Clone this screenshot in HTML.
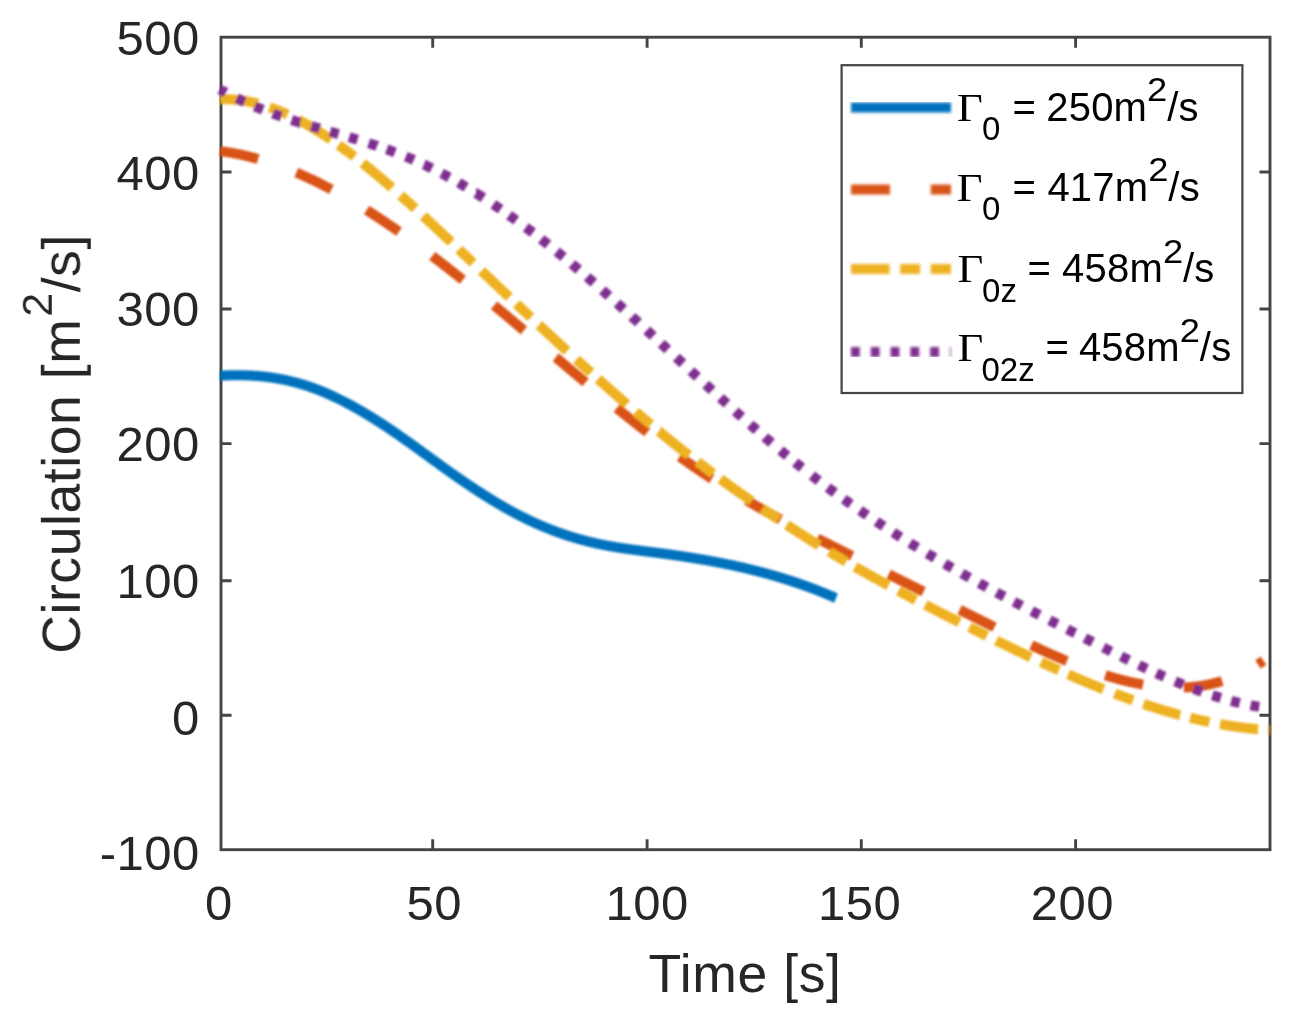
<!DOCTYPE html>
<html><head><meta charset="utf-8"><style>
html,body{margin:0;padding:0;background:#fff;}
body{width:1302px;height:1023px;overflow:hidden;}
svg{display:block;}
</style></head><body>
<svg width="1302" height="1023" viewBox="0 0 1302 1023">
<defs><clipPath id="pc"><rect x="200" y="20" width="1090" height="850"/></clipPath><filter id="bl" x="-2%" y="-2%" width="104%" height="104%"><feGaussianBlur stdDeviation="0.8"/></filter><filter id="bl2" x="-2%" y="-2%" width="104%" height="104%"><feGaussianBlur stdDeviation="1.5"/></filter></defs>
<rect width="1302" height="1023" fill="#fff"/>
<g stroke="#444444" stroke-width="2.9" fill="none">
<rect x="221.00" y="37.20" width="1049.00" height="812.50"/>
<path d="M432.70 849.70 V839.20 M432.70 37.20 V47.70"/>
<path d="M647.10 849.70 V839.20 M647.10 37.20 V47.70"/>
<path d="M861.30 849.70 V839.20 M861.30 37.20 V47.70"/>
<path d="M1075.60 849.70 V839.20 M1075.60 37.20 V47.70"/>
<path d="M221.00 172.00 H231.50 M1270.00 172.00 H1259.50"/>
<path d="M221.00 309.00 H231.50 M1270.00 309.00 H1259.50"/>
<path d="M221.00 443.60 H231.50 M1270.00 443.60 H1259.50"/>
<path d="M221.00 580.70 H231.50 M1270.00 580.70 H1259.50"/>
<path d="M221.00 715.25 H231.50 M1270.00 715.25 H1259.50"/>
</g>
<g clip-path="url(#pc)"><g fill="none" stroke-width="10.0" stroke-linejoin="round" filter="url(#bl)">
<path d="M220.0 375.7 L221.0 375.7 L222.0 375.6 L223.0 375.5 L224.0 375.5 L225.0 375.4 L226.0 375.4 L227.0 375.4 L228.0 375.3 L229.0 375.3 L230.0 375.3 L231.0 375.2 L232.0 375.2 L233.0 375.2 L234.0 375.2 L235.0 375.2 L236.0 375.2 L237.0 375.2 L238.0 375.2 L239.0 375.2 L240.0 375.2 L241.0 375.2 L242.0 375.2 L243.0 375.2 L244.0 375.3 L245.0 375.3 L246.0 375.3 L247.0 375.4 L248.0 375.4 L249.0 375.4 L250.0 375.5 L251.0 375.5 L252.0 375.6 L253.0 375.7 L254.0 375.7 L255.0 375.8 L256.0 375.9 L257.0 375.9 L258.0 376.0 L259.0 376.1 L260.0 376.2 L261.0 376.3 L262.0 376.4 L263.0 376.5 L264.0 376.6 L265.0 376.7 L266.0 376.8 L267.0 377.0 L268.0 377.1 L269.0 377.2 L270.0 377.3 L271.0 377.5 L272.0 377.6 L273.0 377.8 L274.0 377.9 L275.0 378.1 L276.0 378.3 L277.0 378.4 L278.0 378.6 L279.0 378.8 L280.0 379.0 L281.0 379.1 L282.0 379.3 L283.0 379.5 L284.0 379.7 L285.0 380.0 L286.0 380.2 L287.0 380.4 L288.0 380.6 L289.0 380.8 L290.0 381.1 L291.0 381.3 L292.0 381.6 L293.0 381.8 L294.0 382.1 L295.0 382.3 L296.0 382.6 L297.0 382.9 L298.0 383.1 L299.0 383.4 L300.0 383.7 L301.0 384.0 L302.0 384.3 L303.0 384.6 L304.0 384.9 L305.0 385.2 L306.0 385.5 L307.0 385.9 L308.0 386.2 L309.0 386.5 L310.0 386.9 L311.0 387.2 L312.0 387.6 L313.0 387.9 L314.0 388.3 L315.0 388.7 L316.0 389.0 L317.0 389.4 L318.0 389.8 L319.0 390.2 L320.0 390.6 L321.0 391.0 L322.0 391.4 L323.0 391.8 L324.0 392.2 L325.0 392.7 L326.0 393.1 L327.0 393.5 L328.0 394.0 L329.0 394.4 L330.0 394.9 L331.0 395.3 L332.0 395.8 L333.0 396.2 L334.0 396.7 L335.0 397.2 L336.0 397.6 L337.0 398.1 L338.0 398.6 L339.0 399.1 L340.0 399.6 L341.0 400.1 L342.0 400.6 L343.0 401.1 L344.0 401.6 L345.0 402.1 L346.0 402.6 L347.0 403.2 L348.0 403.7 L349.0 404.2 L350.0 404.8 L351.0 405.3 L352.0 405.9 L353.0 406.4 L354.0 407.0 L355.0 407.5 L356.0 408.1 L357.0 408.6 L358.0 409.2 L359.0 409.8 L360.0 410.4 L361.0 410.9 L362.0 411.5 L363.0 412.1 L364.0 412.7 L365.0 413.3 L366.0 413.9 L367.0 414.5 L368.0 415.1 L369.0 415.7 L370.0 416.3 L371.0 416.9 L372.0 417.6 L373.0 418.2 L374.0 418.8 L375.0 419.4 L376.0 420.1 L377.0 420.7 L378.0 421.3 L379.0 422.0 L380.0 422.6 L381.0 423.3 L382.0 423.9 L383.0 424.6 L384.0 425.2 L385.0 425.9 L386.0 426.5 L387.0 427.2 L388.0 427.9 L389.0 428.5 L390.0 429.2 L391.0 429.9 L392.0 430.6 L393.0 431.2 L394.0 431.9 L395.0 432.6 L396.0 433.3 L397.0 434.0 L398.0 434.7 L399.0 435.4 L400.0 436.1 L401.0 436.8 L402.0 437.5 L403.0 438.2 L404.0 438.9 L405.0 439.6 L406.0 440.3 L407.0 441.0 L408.0 441.7 L409.0 442.4 L410.0 443.1 L411.0 443.9 L412.0 444.6 L413.0 445.3 L414.0 446.0 L415.0 446.7 L416.0 447.5 L417.0 448.2 L418.0 448.9 L419.0 449.6 L420.0 450.4 L421.0 451.1 L422.0 451.8 L423.0 452.5 L424.0 453.3 L425.0 454.0 L426.0 454.7 L427.0 455.4 L428.0 456.2 L429.0 456.9 L430.0 457.6 L431.0 458.4 L432.0 459.1 L433.0 459.8 L434.0 460.5 L435.0 461.3 L436.0 462.0 L437.0 462.7 L438.0 463.4 L439.0 464.2 L440.0 464.9 L441.0 465.6 L442.0 466.3 L443.0 467.1 L444.0 467.8 L445.0 468.5 L446.0 469.2 L447.0 469.9 L448.0 470.6 L449.0 471.3 L450.0 472.1 L451.0 472.8 L452.0 473.5 L453.0 474.2 L454.0 474.9 L455.0 475.6 L456.0 476.3 L457.0 477.0 L458.0 477.7 L459.0 478.4 L460.0 479.1 L461.0 479.7 L462.0 480.4 L463.0 481.1 L464.0 481.8 L465.0 482.5 L466.0 483.2 L467.0 483.8 L468.0 484.5 L469.0 485.2 L470.0 485.9 L471.0 486.5 L472.0 487.2 L473.0 487.9 L474.0 488.5 L475.0 489.2 L476.0 489.8 L477.0 490.5 L478.0 491.1 L479.0 491.8 L480.0 492.4 L481.0 493.1 L482.0 493.7 L483.0 494.4 L484.0 495.0 L485.0 495.6 L486.0 496.3 L487.0 496.9 L488.0 497.5 L489.0 498.1 L490.0 498.8 L491.0 499.4 L492.0 500.0 L493.0 500.6 L494.0 501.2 L495.0 501.8 L496.0 502.4 L497.0 503.0 L498.0 503.6 L499.0 504.2 L500.0 504.8 L501.0 505.4 L502.0 505.9 L503.0 506.5 L504.0 507.1 L505.0 507.7 L506.0 508.2 L507.0 508.8 L508.0 509.4 L509.0 509.9 L510.0 510.5 L511.0 511.0 L512.0 511.6 L513.0 512.1 L514.0 512.6 L515.0 513.2 L516.0 513.7 L517.0 514.2 L518.0 514.7 L519.0 515.3 L520.0 515.8 L521.0 516.3 L522.0 516.8 L523.0 517.3 L524.0 517.8 L525.0 518.3 L526.0 518.8 L527.0 519.3 L528.0 519.7 L529.0 520.2 L530.0 520.7 L531.0 521.2 L532.0 521.6 L533.0 522.1 L534.0 522.5 L535.0 523.0 L536.0 523.5 L537.0 523.9 L538.0 524.3 L539.0 524.8 L540.0 525.2 L541.0 525.6 L542.0 526.1 L543.0 526.5 L544.0 526.9 L545.0 527.3 L546.0 527.7 L547.0 528.1 L548.0 528.5 L549.0 528.9 L550.0 529.3 L551.0 529.7 L552.0 530.1 L553.0 530.5 L554.0 530.9 L555.0 531.2 L556.0 531.6 L557.0 532.0 L558.0 532.3 L559.0 532.7 L560.0 533.0 L561.0 533.4 L562.0 533.7 L563.0 534.1 L564.0 534.4 L565.0 534.8 L566.0 535.1 L567.0 535.4 L568.0 535.8 L569.0 536.1 L570.0 536.4 L571.0 536.7 L572.0 537.0 L573.0 537.3 L574.0 537.6 L575.0 537.9 L576.0 538.2 L577.0 538.5 L578.0 538.8 L579.0 539.1 L580.0 539.4 L581.0 539.6 L582.0 539.9 L583.0 540.2 L584.0 540.4 L585.0 540.7 L586.0 541.0 L587.0 541.2 L588.0 541.5 L589.0 541.7 L590.0 542.0 L591.0 542.2 L592.0 542.4 L593.0 542.7 L594.0 542.9 L595.0 543.1 L596.0 543.4 L597.0 543.6 L598.0 543.8 L599.0 544.0 L600.0 544.2 L601.0 544.4 L602.0 544.6 L603.0 544.8 L604.0 545.0 L605.0 545.2 L606.0 545.4 L607.0 545.6 L608.0 545.8 L609.0 546.0 L610.0 546.1 L611.0 546.3 L612.0 546.5 L613.0 546.7 L614.0 546.8 L615.0 547.0 L616.0 547.2 L617.0 547.3 L618.0 547.5 L619.0 547.7 L620.0 547.8 L621.0 548.0 L622.0 548.1 L623.0 548.3 L624.0 548.4 L625.0 548.6 L626.0 548.7 L627.0 548.8 L628.0 549.0 L629.0 549.1 L630.0 549.3 L631.0 549.4 L632.0 549.5 L633.0 549.7 L634.0 549.8 L635.0 550.0 L636.0 550.1 L637.0 550.2 L638.0 550.3 L639.0 550.5 L640.0 550.6 L641.0 550.7 L642.0 550.9 L643.0 551.0 L644.0 551.1 L645.0 551.3 L646.0 551.4 L647.0 551.5 L648.0 551.6 L649.0 551.8 L650.0 551.9 L651.0 552.0 L652.0 552.1 L653.0 552.3 L654.0 552.4 L655.0 552.5 L656.0 552.7 L657.0 552.8 L658.0 552.9 L659.0 553.1 L660.0 553.2 L661.0 553.3 L662.0 553.5 L663.0 553.6 L664.0 553.7 L665.0 553.9 L666.0 554.0 L667.0 554.1 L668.0 554.3 L669.0 554.4 L670.0 554.5 L671.0 554.7 L672.0 554.8 L673.0 555.0 L674.0 555.1 L675.0 555.3 L676.0 555.4 L677.0 555.5 L678.0 555.7 L679.0 555.8 L680.0 556.0 L681.0 556.1 L682.0 556.3 L683.0 556.4 L684.0 556.6 L685.0 556.7 L686.0 556.9 L687.0 557.1 L688.0 557.2 L689.0 557.4 L690.0 557.5 L691.0 557.7 L692.0 557.8 L693.0 558.0 L694.0 558.2 L695.0 558.3 L696.0 558.5 L697.0 558.7 L698.0 558.8 L699.0 559.0 L700.0 559.2 L701.0 559.3 L702.0 559.5 L703.0 559.7 L704.0 559.8 L705.0 560.0 L706.0 560.2 L707.0 560.4 L708.0 560.5 L709.0 560.7 L710.0 560.9 L711.0 561.1 L712.0 561.3 L713.0 561.5 L714.0 561.6 L715.0 561.8 L716.0 562.0 L717.0 562.2 L718.0 562.4 L719.0 562.6 L720.0 562.8 L721.0 563.0 L722.0 563.2 L723.0 563.4 L724.0 563.6 L725.0 563.8 L726.0 564.0 L727.0 564.2 L728.0 564.4 L729.0 564.6 L730.0 564.8 L731.0 565.0 L732.0 565.2 L733.0 565.4 L734.0 565.7 L735.0 565.9 L736.0 566.1 L737.0 566.3 L738.0 566.5 L739.0 566.8 L740.0 567.0 L741.0 567.2 L742.0 567.4 L743.0 567.7 L744.0 567.9 L745.0 568.1 L746.0 568.4 L747.0 568.6 L748.0 568.8 L749.0 569.1 L750.0 569.3 L751.0 569.6 L752.0 569.8 L753.0 570.1 L754.0 570.3 L755.0 570.6 L756.0 570.8 L757.0 571.1 L758.0 571.3 L759.0 571.6 L760.0 571.9 L761.0 572.1 L762.0 572.4 L763.0 572.6 L764.0 572.9 L765.0 573.2 L766.0 573.5 L767.0 573.7 L768.0 574.0 L769.0 574.3 L770.0 574.6 L771.0 574.8 L772.0 575.1 L773.0 575.4 L774.0 575.7 L775.0 576.0 L776.0 576.3 L777.0 576.6 L778.0 576.9 L779.0 577.2 L780.0 577.5 L781.0 577.8 L782.0 578.1 L783.0 578.4 L784.0 578.7 L785.0 579.0 L786.0 579.3 L787.0 579.6 L788.0 580.0 L789.0 580.3 L790.0 580.6 L791.0 580.9 L792.0 581.3 L793.0 581.6 L794.0 581.9 L795.0 582.3 L796.0 582.6 L797.0 582.9 L798.0 583.3 L799.0 583.6 L800.0 584.0 L801.0 584.3 L802.0 584.7 L803.0 585.0 L804.0 585.4 L805.0 585.7 L806.0 586.1 L807.0 586.5 L808.0 586.8 L809.0 587.2 L810.0 587.6 L811.0 587.9 L812.0 588.3 L813.0 588.7 L814.0 589.1 L815.0 589.4 L816.0 589.8 L817.0 590.2 L818.0 590.6 L819.0 591.0 L820.0 591.4 L821.0 591.8 L822.0 592.2 L823.0 592.6 L824.0 593.0 L825.0 593.4 L826.0 593.8 L827.0 594.3 L828.0 594.7 L829.0 595.1 L830.0 595.5 L831.0 595.9 L832.0 596.4 L833.0 596.8 L834.0 597.2 L835.0 597.7 L836.0 598.1" stroke="#0072BD"/>
<path d="M220.00 151.11 L221.00 151.23 L222.00 151.37 L223.00 151.50 L224.00 151.64 L225.00 151.79 L226.00 151.94 L227.00 152.09 L228.00 152.25 L229.00 152.41 L230.00 152.58 L230.99 152.75 L231.99 152.93 L232.99 153.11 L233.99 153.29 L234.99 153.48 L235.99 153.67 L236.99 153.87 L237.99 154.07 L238.99 154.27 L239.99 154.48 L240.99 154.70 L241.99 154.91 L242.99 155.14 L243.99 155.36 L244.99 155.59 L245.99 155.83 L246.99 156.06 L247.99 156.31 L248.99 156.55 L249.99 156.80 L250.99 157.06 L251.98 157.32 L252.98 157.58 L253.98 157.84 L254.98 158.11 L255.98 158.39 L256.98 158.67 L257.98 158.95 L258.15 159.00 M296.30 172.60 L296.96 172.88 L297.96 173.31 L298.96 173.74 L299.96 174.17 L300.96 174.61 L301.96 175.05 L302.96 175.50 L303.96 175.95 L304.96 176.40 L305.96 176.85 L306.96 177.31 L307.96 177.77 L308.96 178.24 L309.96 178.70 L310.96 179.18 L311.96 179.65 L312.96 180.13 L313.95 180.61 L314.95 181.09 L315.95 181.58 L316.95 182.07 L317.95 182.56 L318.95 183.06 L319.95 183.56 L320.95 184.06 L321.95 184.57 L322.95 185.07 L323.95 185.59 L324.95 186.10 L325.95 186.62 L326.95 187.14 L327.95 187.66 L328.95 188.19 L329.95 188.72 L330.95 189.25 L331.43 189.51 M366.61 210.05 L366.93 210.26 L367.93 210.89 L368.93 211.52 L369.93 212.16 L370.93 212.80 L371.93 213.44 L372.93 214.08 L373.93 214.73 L374.93 215.38 L375.93 216.03 L376.92 216.68 L377.92 217.33 L378.92 217.99 L379.92 218.65 L380.92 219.31 L381.92 219.98 L382.92 220.64 L383.92 221.31 L384.92 221.98 L385.92 222.66 L386.92 223.33 L387.92 224.01 L388.92 224.69 L389.92 225.37 L390.92 226.05 L391.92 226.74 L392.92 227.43 L393.92 228.11 L394.92 228.81 L395.92 229.50 L396.92 230.20 L397.91 230.89 L398.91 231.59 L399.05 231.69 M432.15 255.92 L432.90 256.49 L433.90 257.25 L434.90 258.02 L435.90 258.78 L436.90 259.55 L437.90 260.31 L438.90 261.08 L439.89 261.85 L440.89 262.62 L441.89 263.40 L442.89 264.17 L443.89 264.95 L444.89 265.73 L445.89 266.51 L446.89 267.29 L447.89 268.07 L448.89 268.85 L449.89 269.63 L450.89 270.42 L451.89 271.21 L452.89 271.99 L453.89 272.78 L454.89 273.57 L455.89 274.37 L456.89 275.16 L457.89 275.95 L458.89 276.75 L459.89 277.55 L460.88 278.34 L461.88 279.14 L462.87 279.93 M494.04 305.37 L494.87 306.06 L495.87 306.89 L496.87 307.72 L497.87 308.55 L498.87 309.38 L499.87 310.21 L500.87 311.04 L501.86 311.88 L502.86 312.71 L503.86 313.55 L504.86 314.38 L505.86 315.22 L506.86 316.05 L507.86 316.89 L508.86 317.73 L509.86 318.56 L510.86 319.40 L511.86 320.24 L512.86 321.08 L513.86 321.92 L514.86 322.76 L515.86 323.60 L516.86 324.44 L517.86 325.28 L518.86 326.12 L519.86 326.97 L520.86 327.81 L521.86 328.65 L522.85 329.49 L523.85 330.34 L523.94 330.41 M555.76 357.33 L555.84 357.39 L556.84 358.24 L557.84 359.08 L558.84 359.93 L559.84 360.77 L560.84 361.62 L561.84 362.46 L562.84 363.31 L563.84 364.15 L564.83 364.99 L565.83 365.84 L566.83 366.68 L567.83 367.52 L568.83 368.37 L569.83 369.21 L570.83 370.05 L571.83 370.89 L572.83 371.73 L573.83 372.57 L574.83 373.41 L575.83 374.25 L576.83 375.09 L577.83 375.93 L578.83 376.77 L579.83 377.61 L580.83 378.44 L581.83 379.28 L582.83 380.12 L583.83 380.95 L584.83 381.79 L585.60 382.44 M616.69 408.06 L616.81 408.16 L617.81 408.97 L618.81 409.78 L619.81 410.59 L620.81 411.39 L621.81 412.20 L622.81 413.01 L623.81 413.81 L624.81 414.61 L625.81 415.41 L626.81 416.21 L627.80 417.01 L628.80 417.81 L629.80 418.61 L630.80 419.41 L631.80 420.20 L632.80 420.99 L633.80 421.79 L634.80 422.58 L635.80 423.37 L636.80 424.16 L637.80 424.94 L638.80 425.73 L639.80 426.52 L640.80 427.30 L641.80 428.08 L642.80 428.86 L643.80 429.64 L644.80 430.42 L645.80 431.20 L646.80 431.97 L647.23 432.31 M679.68 456.63 L679.78 456.70 L680.78 457.42 L681.78 458.14 L682.78 458.86 L683.78 459.57 L684.78 460.29 L685.78 461.00 L686.78 461.71 L687.78 462.41 L688.78 463.12 L689.77 463.82 L690.77 464.52 L691.77 465.22 L692.77 465.92 L693.77 466.61 L694.77 467.31 L695.77 468.00 L696.77 468.69 L697.77 469.37 L698.77 470.06 L699.77 470.74 L700.77 471.42 L701.77 472.10 L702.77 472.78 L703.77 473.45 L704.77 474.12 L705.77 474.79 L706.77 475.46 L707.77 476.13 L708.77 476.79 L709.77 477.45 L710.76 478.11 L711.76 478.76 L711.78 478.77 M746.65 500.37 L746.75 500.43 L747.75 501.01 L748.75 501.60 L749.75 502.18 L750.75 502.76 L751.75 503.34 L752.74 503.91 L753.74 504.49 L754.74 505.06 L755.74 505.63 L756.74 506.21 L757.74 506.77 L758.74 507.34 L759.74 507.91 L760.74 508.47 L761.74 509.04 L762.74 509.60 L763.74 510.16 L764.74 510.72 L765.74 511.28 L766.74 511.83 L767.74 512.39 L768.74 512.94 L769.74 513.49 L770.74 514.04 L771.74 514.59 L772.74 515.14 L773.73 515.69 L774.73 516.23 L775.73 516.78 L776.73 517.32 L777.73 517.86 L778.73 518.40 L779.73 518.94 L780.67 519.45 M817.23 538.52 L817.71 538.76 L818.71 539.27 L819.71 539.77 L820.71 540.28 L821.71 540.79 L822.71 541.29 L823.71 541.80 L824.71 542.30 L825.71 542.81 L826.71 543.31 L827.71 543.81 L828.71 544.32 L829.71 544.82 L830.71 545.32 L831.71 545.82 L832.71 546.33 L833.71 546.83 L834.71 547.33 L835.70 547.83 L836.70 548.33 L837.70 548.83 L838.70 549.33 L839.70 549.83 L840.70 550.33 L841.70 550.83 L842.70 551.33 L843.70 551.83 L844.70 552.33 L845.70 552.83 L846.70 553.33 L847.70 553.83 L848.70 554.33 L849.70 554.83 L850.70 555.33 L851.70 555.83 L852.09 556.02 M888.69 574.33 L889.68 574.82 L890.68 575.32 L891.68 575.82 L892.68 576.32 L893.68 576.82 L894.68 577.32 L895.68 577.82 L896.68 578.32 L897.68 578.82 L898.67 579.32 L899.67 579.82 L900.67 580.32 L901.67 580.82 L902.67 581.32 L903.67 581.82 L904.67 582.32 L905.67 582.82 L906.67 583.32 L907.67 583.82 L908.67 584.32 L909.67 584.82 L910.67 585.32 L911.67 585.82 L912.67 586.32 L913.67 586.82 L914.67 587.32 L915.67 587.82 L916.67 588.32 L917.67 588.82 L918.67 589.32 L919.66 589.82 L920.66 590.32 L921.66 590.82 L922.66 591.32 L923.57 591.77 M959.59 609.76 L959.65 609.79 L960.65 610.29 L961.64 610.79 L962.64 611.29 L963.64 611.78 L964.64 612.28 L965.64 612.78 L966.64 613.28 L967.64 613.78 L968.64 614.27 L969.64 614.77 L970.64 615.27 L971.64 615.77 L972.64 616.26 L973.64 616.76 L974.64 617.26 L975.64 617.76 L976.64 618.25 L977.64 618.75 L978.64 619.25 L979.64 619.75 L980.64 620.24 L981.64 620.74 L982.63 621.24 L983.63 621.74 L984.63 622.23 L985.63 622.73 L986.63 623.23 L987.63 623.72 L988.63 624.22 L989.63 624.72 L990.63 625.21 L991.63 625.71 L992.63 626.21 L993.63 626.70 L994.51 627.14 M1031.35 645.13 L1031.61 645.25 L1032.61 645.73 L1033.61 646.20 L1034.61 646.67 L1035.61 647.14 L1036.61 647.61 L1037.61 648.07 L1038.61 648.54 L1039.61 649.00 L1040.61 649.46 L1041.61 649.93 L1042.61 650.39 L1043.61 650.84 L1044.60 651.30 L1045.60 651.76 L1046.60 652.21 L1047.60 652.66 L1048.60 653.11 L1049.60 653.56 L1050.60 654.01 L1051.60 654.46 L1052.60 654.90 L1053.60 655.34 L1054.60 655.79 L1055.60 656.22 L1056.60 656.66 L1057.60 657.10 L1058.60 657.53 L1059.60 657.96 L1060.60 658.39 L1061.60 658.82 L1062.60 659.25 L1063.60 659.67 L1064.60 660.09 L1065.59 660.51 L1066.59 660.93 L1066.94 661.07 M1105.23 675.19 L1105.58 675.30 L1106.58 675.61 L1107.57 675.92 L1108.57 676.22 L1109.57 676.52 L1110.57 676.82 L1111.57 677.12 L1112.57 677.41 L1113.57 677.70 L1114.57 677.98 L1115.57 678.26 L1116.57 678.54 L1117.57 678.82 L1118.57 679.09 L1119.57 679.35 L1120.57 679.62 L1121.57 679.88 L1122.57 680.13 L1123.57 680.39 L1124.57 680.64 L1125.57 680.88 L1126.57 681.12 L1127.57 681.36 L1128.56 681.59 L1129.56 681.82 L1130.56 682.05 L1131.56 682.27 L1132.56 682.49 L1133.56 682.71 L1134.56 682.92 L1135.56 683.12 L1136.56 683.33 L1137.56 683.52 L1138.56 683.72 L1139.56 683.91 L1140.56 684.09 L1141.56 684.28 L1142.56 684.45 L1143.06 684.54 M1183.80 687.53 L1184.54 687.50 L1185.54 687.45 L1186.54 687.40 L1187.54 687.34 L1188.54 687.27 L1189.54 687.20 L1190.53 687.12 L1191.53 687.04 L1192.53 686.94 L1193.53 686.84 L1194.53 686.74 L1195.53 686.63 L1196.53 686.51 L1197.53 686.38 L1198.53 686.25 L1199.53 686.11 L1200.53 685.96 L1201.53 685.81 L1202.53 685.65 L1203.53 685.48 L1204.53 685.31 L1205.53 685.13 L1206.53 684.94 L1207.53 684.74 L1208.53 684.54 L1209.53 684.33 L1210.53 684.11 L1211.52 683.88 L1212.52 683.65 L1213.52 683.41 L1214.52 683.16 L1215.52 682.90 L1216.52 682.64 L1217.52 682.37 L1218.52 682.09 L1219.52 681.80 L1220.52 681.51 L1221.52 681.20 L1222.14 681.01 M1257.88 664.39 L1258.50 664.00 L1259.50 663.36 L1260.50 662.71 L1261.50 662.05 L1262.50 661.38 L1263.50 660.70" stroke="#D95319"/>
<path d="M220.00 99.39 L221.00 99.35 L222.00 99.32 L223.00 99.30 L224.00 99.28 L225.00 99.28 L226.00 99.28 L227.00 99.29 L228.00 99.31 L229.00 99.34 L230.00 99.38 L231.00 99.43 L232.00 99.48 L233.00 99.55 L234.00 99.62 L235.00 99.70 L236.00 99.78 L237.00 99.88 L238.00 99.99 L239.00 100.10 L240.00 100.22 L241.00 100.35 L242.00 100.48 L243.00 100.63 L244.00 100.78 L245.00 100.94 L246.00 101.11 L247.00 101.29 L248.00 101.47 L249.00 101.66 L250.00 101.86 L251.00 102.07 L252.00 102.28 L253.00 102.50 L254.00 102.73 L255.00 102.97 L256.00 103.22 L257.00 103.47 L257.91 103.70 M269.46 107.21 L270.00 107.39 L271.00 107.75 L272.00 108.10 L273.00 108.47 L274.00 108.84 L275.00 109.22 L276.00 109.60 L277.00 109.99 L278.00 110.39 L279.00 110.79 L280.00 111.20 L281.00 111.62 L282.00 112.04 L283.00 112.47 L284.00 112.91 L285.00 113.35 L286.00 113.80 L287.00 114.25 L287.63 114.54 M298.25 119.76 L299.00 120.16 L300.00 120.69 L301.00 121.22 L302.00 121.76 L303.00 122.31 L304.00 122.86 L305.00 123.42 L306.00 123.98 L307.00 124.55 L308.00 125.12 L309.00 125.70 L310.00 126.28 L311.00 126.87 L312.00 127.46 L313.00 128.06 L314.00 128.67 L315.00 129.27 L316.00 129.89 L317.00 130.51 L318.00 131.13 L319.00 131.76 L320.00 132.39 L321.00 133.03 L322.00 133.67 L323.00 134.31 L324.00 134.97 L325.00 135.62 L326.00 136.28 L327.00 136.95 L328.00 137.62 L329.00 138.29 L330.00 138.97 L330.97 139.63 M338.65 145.00 L339.00 145.25 L340.00 145.97 L341.00 146.69 L342.00 147.42 L343.00 148.15 L344.00 148.88 L345.00 149.62 L346.00 150.36 L347.00 151.11 L348.00 151.86 L349.00 152.61 L350.00 153.36 L351.00 154.12 L352.00 154.88 L353.00 155.65 L354.00 156.42 L354.37 156.70 M362.63 163.19 L363.00 163.48 L364.00 164.28 L365.00 165.09 L366.00 165.89 L367.00 166.70 L368.00 167.51 L369.00 168.33 L370.00 169.15 L371.00 169.97 L372.00 170.79 L373.00 171.62 L374.00 172.45 L375.00 173.28 L376.00 174.11 L377.00 174.95 L378.00 175.79 L379.00 176.63 L380.00 177.47 L381.00 178.32 L382.00 179.17 L383.00 180.02 L384.00 180.88 L385.00 181.73 L386.00 182.59 L387.00 183.45 L388.00 184.32 L389.00 185.18 L390.00 186.05 L391.00 186.92 L391.99 187.78 M400.62 195.39 L401.00 195.73 L402.00 196.62 L403.00 197.52 L404.00 198.41 L405.00 199.31 L406.00 200.21 L407.00 201.11 L408.00 202.01 L409.00 202.92 L410.00 203.82 L411.00 204.73 L412.00 205.64 L413.00 206.55 L414.00 207.46 L415.00 208.38 L415.17 208.53 M423.30 216.01 L424.00 216.66 L425.00 217.58 L426.00 218.51 L427.00 219.44 L428.00 220.37 L429.00 221.30 L430.00 222.23 L431.00 223.16 L432.00 224.10 L433.00 225.03 L434.00 225.97 L435.00 226.90 L436.00 227.84 L437.00 228.78 L438.00 229.72 L439.00 230.66 L440.00 231.60 L441.00 232.54 L442.00 233.48 L443.00 234.42 L444.00 235.36 L445.00 236.30 L446.00 237.25 L447.00 238.19 L448.00 239.14 L449.00 240.08 L450.00 241.03 L451.00 241.97 L451.24 242.20 M458.95 249.50 L459.00 249.55 L460.00 250.49 L461.00 251.44 L462.00 252.39 L463.00 253.34 L464.00 254.28 L465.00 255.23 L466.00 256.18 L467.00 257.13 L468.00 258.08 L469.00 259.02 L470.00 259.97 L471.00 260.92 L472.00 261.87 L473.00 262.82 L473.17 262.98 M481.43 270.81 L482.00 271.35 L483.00 272.30 L484.00 273.24 L485.00 274.19 L486.00 275.14 L487.00 276.09 L488.00 277.03 L489.00 277.98 L490.00 278.93 L491.00 279.87 L492.00 280.82 L493.00 281.77 L494.00 282.71 L495.00 283.66 L496.00 284.61 L497.00 285.55 L498.00 286.50 L499.00 287.44 L500.00 288.39 L501.00 289.33 L502.00 290.28 L503.00 291.22 L504.00 292.17 L505.00 293.11 L506.00 294.06 L507.00 295.00 L508.00 295.94 L509.00 296.89 L509.26 297.13 M516.50 303.95 L517.00 304.42 L518.00 305.36 L519.00 306.30 L520.00 307.24 L521.00 308.18 L522.00 309.12 L523.00 310.06 L524.00 311.00 L525.00 311.94 L526.00 312.88 L527.00 313.81 L528.00 314.75 L529.00 315.69 L530.00 316.62 L530.79 317.37 M538.95 324.99 L539.00 325.03 L540.00 325.96 L541.00 326.89 L542.00 327.82 L543.00 328.75 L544.00 329.68 L545.00 330.61 L546.00 331.54 L547.00 332.47 L548.00 333.40 L549.00 334.32 L550.00 335.25 L551.00 336.18 L552.00 337.10 L553.00 338.03 L554.00 338.95 L555.00 339.87 L556.00 340.80 L557.00 341.72 L558.00 342.64 L559.00 343.56 L560.00 344.48 L561.00 345.40 L562.00 346.32 L563.00 347.24 L564.00 348.16 L565.00 349.08 L566.00 349.99 L567.00 350.91 L567.08 350.98 M576.40 359.49 L577.00 360.03 L578.00 360.94 L579.00 361.85 L580.00 362.75 L581.00 363.66 L582.00 364.56 L583.00 365.47 L584.00 366.37 L585.00 367.27 L586.00 368.17 L587.00 369.08 L588.00 369.98 L589.00 370.87 L590.00 371.77 L590.95 372.62 M598.09 379.01 L599.00 379.82 L600.00 380.71 L601.00 381.60 L602.00 382.49 L603.00 383.37 L604.00 384.26 L605.00 385.14 L606.00 386.03 L607.00 386.91 L608.00 387.79 L609.00 388.67 L610.00 389.55 L611.00 390.43 L612.00 391.31 L613.00 392.19 L614.00 393.06 L615.00 393.94 L616.00 394.81 L617.00 395.68 L618.00 396.56 L619.00 397.43 L620.00 398.30 L621.00 399.17 L622.00 400.03 L623.00 400.90 L624.00 401.76 L625.00 402.63 L626.00 403.49 L626.89 404.26 M635.76 411.86 L636.00 412.06 L637.00 412.91 L638.00 413.76 L639.00 414.61 L640.00 415.46 L641.00 416.30 L642.00 417.15 L643.00 417.99 L644.00 418.83 L645.00 419.67 L646.00 420.51 L647.00 421.35 L648.00 422.19 L649.00 423.03 L650.00 423.86 L650.75 424.49 M658.98 431.30 L659.00 431.31 L660.00 432.13 L661.00 432.95 L662.00 433.77 L663.00 434.59 L664.00 435.41 L665.00 436.22 L666.00 437.03 L667.00 437.85 L668.00 438.66 L669.00 439.47 L670.00 440.27 L671.00 441.08 L672.00 441.88 L673.00 442.69 L674.00 443.49 L675.00 444.29 L676.00 445.09 L677.00 445.89 L678.00 446.68 L679.00 447.48 L680.00 448.27 L681.00 449.06 L682.00 449.85 L683.00 450.64 L684.00 451.43 L685.00 452.21 L686.00 453.00 L687.00 453.78 L688.00 454.56 L688.88 455.24 M697.44 461.85 L698.00 462.28 L699.00 463.04 L700.00 463.80 L701.00 464.56 L702.00 465.32 L703.00 466.08 L704.00 466.84 L705.00 467.59 L706.00 468.34 L707.00 469.09 L708.00 469.84 L709.00 470.59 L710.00 471.33 L711.00 472.08 L712.00 472.82 L713.00 473.56 L713.10 473.64 M720.45 479.04 L721.00 479.44 L722.00 480.17 L723.00 480.90 L724.00 481.62 L725.00 482.35 L726.00 483.07 L727.00 483.79 L728.00 484.51 L729.00 485.23 L730.00 485.95 L731.00 486.67 L732.00 487.38 L733.00 488.10 L734.00 488.81 L735.00 489.52 L736.00 490.23 L737.00 490.94 L738.00 491.65 L739.00 492.35 L740.00 493.06 L741.00 493.76 L742.00 494.47 L743.00 495.17 L744.00 495.87 L745.00 496.57 L746.00 497.27 L747.00 497.96 L748.00 498.66 L749.00 499.36 L750.00 500.05 L751.00 500.74 L751.68 501.21 M762.32 508.51 L763.00 508.98 L764.00 509.65 L765.00 510.33 L766.00 511.01 L767.00 511.69 L768.00 512.36 L769.00 513.04 L770.00 513.71 L771.00 514.38 L772.00 515.06 L773.00 515.73 L774.00 516.40 L775.00 517.06 L776.00 517.73 L777.00 518.40 L778.00 519.06 L778.58 519.45 M786.83 524.90 L787.00 525.01 L788.00 525.66 L789.00 526.31 L790.00 526.97 L791.00 527.62 L792.00 528.27 L793.00 528.92 L794.00 529.57 L795.00 530.21 L796.00 530.86 L797.00 531.50 L798.00 532.15 L799.00 532.79 L800.00 533.43 L801.00 534.07 L802.00 534.71 L803.00 535.35 L804.00 535.98 L805.00 536.62 L806.00 537.25 L807.00 537.89 L808.00 538.52 L809.00 539.15 L810.00 539.78 L811.00 540.41 L812.00 541.03 L813.00 541.66 L814.00 542.29 L815.00 542.91 L816.00 543.53 L817.00 544.15 L818.00 544.77 L819.00 545.39 L819.13 545.47 M829.32 551.70 L830.00 552.11 L831.00 552.71 L832.00 553.32 L833.00 553.92 L834.00 554.52 L835.00 555.11 L836.00 555.71 L837.00 556.31 L838.00 556.90 L839.00 557.49 L840.00 558.09 L841.00 558.68 L842.00 559.27 L843.00 559.85 L844.00 560.44 L845.00 561.03 L846.00 561.61 L846.17 561.71 M855.10 566.87 L856.00 567.39 L857.00 567.96 L858.00 568.54 L859.00 569.11 L860.00 569.67 L861.00 570.24 L862.00 570.81 L863.00 571.37 L864.00 571.94 L865.00 572.50 L866.00 573.06 L867.00 573.63 L868.00 574.19 L869.00 574.75 L870.00 575.30 L871.00 575.86 L872.00 576.42 L873.00 576.97 L874.00 577.53 L875.00 578.08 L876.00 578.63 L877.00 579.19 L878.00 579.74 L879.00 580.29 L880.00 580.84 L881.00 581.38 L882.00 581.93 L883.00 582.48 L884.00 583.02 L885.00 583.57 L886.00 584.11 L887.00 584.65 L888.00 585.20 L888.56 585.50 M898.49 590.83 L899.00 591.10 L900.00 591.64 L901.00 592.17 L902.00 592.70 L903.00 593.23 L904.00 593.76 L905.00 594.29 L906.00 594.81 L907.00 595.34 L908.00 595.87 L909.00 596.40 L910.00 596.92 L911.00 597.45 L912.00 597.97 L913.00 598.49 L914.00 599.02 L915.00 599.54 L915.83 599.97 M925.31 604.88 L926.00 605.24 L927.00 605.76 L928.00 606.27 L929.00 606.79 L930.00 607.30 L931.00 607.81 L932.00 608.33 L933.00 608.84 L934.00 609.35 L935.00 609.86 L936.00 610.37 L937.00 610.88 L938.00 611.39 L939.00 611.90 L940.00 612.41 L941.00 612.92 L942.00 613.43 L943.00 613.93 L944.00 614.44 L945.00 614.95 L946.00 615.46 L947.00 615.96 L948.00 616.47 L949.00 616.97 L950.00 617.48 L951.00 617.98 L952.00 618.49 L953.00 618.99 L954.00 619.50 L955.00 620.00 L956.00 620.50 L957.00 621.01 L958.00 621.51 L959.00 622.01 L959.45 622.24 M969.37 627.21 L970.00 627.52 L971.00 628.02 L972.00 628.52 L973.00 629.02 L974.00 629.52 L975.00 630.02 L976.00 630.52 L977.00 631.02 L978.00 631.52 L979.00 632.02 L980.00 632.51 L981.00 633.01 L982.00 633.51 L983.00 634.01 L984.00 634.50 L985.00 635.00 L986.00 635.49 L986.91 635.95 M996.28 640.57 L997.00 640.93 L998.00 641.42 L999.00 641.91 L1000.00 642.40 L1001.00 642.89 L1002.00 643.38 L1003.00 643.87 L1004.00 644.36 L1005.00 644.85 L1006.00 645.34 L1007.00 645.83 L1008.00 646.31 L1009.00 646.80 L1010.00 647.28 L1011.00 647.77 L1012.00 648.26 L1013.00 648.74 L1014.00 649.22 L1015.00 649.71 L1016.00 650.19 L1017.00 650.67 L1018.00 651.15 L1019.00 651.63 L1020.00 652.11 L1021.00 652.59 L1022.00 653.07 L1023.00 653.55 L1024.00 654.03 L1025.00 654.51 L1026.00 654.98 L1027.00 655.46 L1028.00 655.93 L1029.00 656.41 L1030.00 656.88 L1030.76 657.24 M1041.11 662.09 L1042.00 662.51 L1043.00 662.97 L1044.00 663.44 L1045.00 663.90 L1046.00 664.36 L1047.00 664.82 L1048.00 665.28 L1049.00 665.74 L1050.00 666.20 L1051.00 666.65 L1052.00 667.11 L1053.00 667.57 L1054.00 668.02 L1055.00 668.47 L1056.00 668.93 L1057.00 669.38 L1058.00 669.83 L1058.93 670.25 M1068.20 674.37 L1069.00 674.72 L1070.00 675.16 L1071.00 675.60 L1072.00 676.03 L1073.00 676.47 L1074.00 676.90 L1075.00 677.34 L1076.00 677.77 L1077.00 678.20 L1078.00 678.63 L1079.00 679.06 L1080.00 679.49 L1081.00 679.91 L1082.00 680.34 L1083.00 680.76 L1084.00 681.19 L1085.00 681.61 L1086.00 682.03 L1087.00 682.45 L1088.00 682.87 L1089.00 683.28 L1090.00 683.70 L1091.00 684.11 L1092.00 684.53 L1093.00 684.94 L1094.00 685.35 L1095.00 685.76 L1096.00 686.17 L1097.00 686.58 L1098.00 686.98 L1099.00 687.39 L1100.00 687.79 L1101.00 688.19 L1102.00 688.59 L1103.00 688.99 L1103.51 689.19 M1114.67 693.55 L1115.00 693.68 L1116.00 694.06 L1117.00 694.44 L1118.00 694.81 L1119.00 695.19 L1120.00 695.57 L1121.00 695.94 L1122.00 696.31 L1123.00 696.68 L1124.00 697.05 L1125.00 697.42 L1126.00 697.79 L1127.00 698.15 L1128.00 698.51 L1129.00 698.88 L1130.00 699.24 L1131.00 699.59 L1132.00 699.95 L1133.00 700.31 L1133.06 700.33 M1143.44 703.91 L1144.00 704.10 L1145.00 704.44 L1146.00 704.77 L1147.00 705.11 L1148.00 705.44 L1149.00 705.76 L1150.00 706.09 L1151.00 706.42 L1152.00 706.74 L1153.00 707.06 L1154.00 707.38 L1155.00 707.70 L1156.00 708.01 L1157.00 708.33 L1158.00 708.64 L1159.00 708.95 L1160.00 709.26 L1161.00 709.57 L1162.00 709.87 L1163.00 710.17 L1164.00 710.48 L1165.00 710.78 L1166.00 711.07 L1167.00 711.37 L1168.00 711.66 L1169.00 711.95 L1170.00 712.24 L1171.00 712.53 L1172.00 712.82 L1173.00 713.10 L1174.00 713.38 L1175.00 713.66 L1176.00 713.94 L1177.00 714.22 L1178.00 714.49 L1179.00 714.77 L1180.00 715.04 L1180.07 715.05 M1190.21 717.68 L1191.00 717.87 L1192.00 718.12 L1193.00 718.36 L1194.00 718.60 L1195.00 718.84 L1196.00 719.08 L1197.00 719.31 L1198.00 719.55 L1199.00 719.78 L1200.00 720.01 L1201.00 720.23 L1202.00 720.45 L1203.00 720.68 L1204.00 720.90 L1205.00 721.11 L1206.00 721.33 L1207.00 721.54 L1208.00 721.75 L1209.00 721.96 L1209.32 722.03 M1220.08 724.11 L1221.00 724.28 L1222.00 724.46 L1223.00 724.63 L1224.00 724.81 L1225.00 724.98 L1226.00 725.14 L1227.00 725.31 L1228.00 725.47 L1229.00 725.64 L1230.00 725.79 L1231.00 725.95 L1232.00 726.10 L1233.00 726.26 L1234.00 726.40 L1235.00 726.55 L1236.00 726.69 L1237.00 726.84 L1238.00 726.97 L1239.00 727.11 L1240.00 727.24 L1241.00 727.38 L1242.00 727.50 L1243.00 727.63 L1244.00 727.75 L1245.00 727.88 L1246.00 727.99 L1247.00 728.11 L1248.00 728.22 L1249.00 728.33 L1250.00 728.44 L1251.00 728.55 L1252.00 728.65 L1253.00 728.75 L1254.00 728.85 L1255.00 728.94 L1256.00 729.03 L1257.00 729.12 L1258.00 729.21 L1258.03 729.21 M1268.47 729.95 L1269.00 729.98 L1270.00 730.04" stroke="#EDB120"/>
<path d="M220.00 89.49 L221.00 90.05 L222.00 90.61 L223.00 91.16 L224.00 91.70 L225.00 92.24 L225.88 92.71 M236.67 98.23 L237.00 98.39 L238.00 98.87 L239.00 99.35 L240.00 99.83 L241.00 100.30 L242.00 100.77 L243.00 101.24 L244.00 101.70 L244.63 101.98 M254.78 106.43 L255.00 106.52 L256.00 106.94 L257.00 107.35 L258.00 107.76 L259.00 108.17 L260.00 108.57 L261.00 108.98 L262.00 109.37 L262.93 109.74 M272.88 113.52 L273.00 113.57 L274.00 113.93 L275.00 114.29 L276.00 114.65 L277.00 115.01 L278.00 115.37 L279.00 115.72 L280.00 116.07 L281.00 116.42 L281.17 116.47 M291.62 119.99 L292.00 120.11 L293.00 120.43 L294.00 120.76 L295.00 121.08 L296.00 121.40 L297.00 121.72 L298.00 122.03 L299.00 122.35 L300.00 122.66 L300.01 122.66 M311.21 126.09 L312.00 126.33 L313.00 126.63 L314.00 126.93 L315.00 127.22 L316.00 127.52 L317.00 127.82 L318.00 128.11 L319.00 128.40 L319.64 128.59 M330.09 131.64 L331.00 131.91 L332.00 132.20 L333.00 132.49 L334.00 132.78 L335.00 133.07 L336.00 133.36 L337.00 133.66 L338.00 133.95 L338.54 134.10 M349.10 137.21 L350.00 137.48 L351.00 137.78 L352.00 138.08 L353.00 138.38 L354.00 138.68 L355.00 138.98 L356.00 139.28 L357.00 139.59 L357.53 139.75 M368.66 143.22 L369.00 143.33 L370.00 143.65 L371.00 143.98 L372.00 144.30 L373.00 144.63 L374.00 144.96 L375.00 145.29 L376.00 145.62 L377.00 145.95 L377.02 145.96 M386.72 149.31 L387.00 149.41 L388.00 149.77 L389.00 150.13 L390.00 150.49 L391.00 150.86 L392.00 151.22 L393.00 151.59 L394.00 151.97 L394.99 152.34 M405.74 156.56 L406.00 156.67 L407.00 157.08 L408.00 157.50 L409.00 157.92 L410.00 158.34 L411.00 158.76 L412.00 159.19 L413.00 159.62 L413.84 159.99 M423.94 164.57 L424.00 164.59 L425.00 165.06 L426.00 165.54 L427.00 166.02 L428.00 166.50 L429.00 166.98 L430.00 167.47 L431.00 167.96 L431.87 168.39 M441.57 173.34 L442.00 173.56 L443.00 174.09 L444.00 174.62 L445.00 175.16 L446.00 175.69 L447.00 176.23 L448.00 176.78 L449.00 177.32 L449.33 177.50 M458.57 182.70 L459.00 182.95 L460.00 183.52 L461.00 184.11 L462.00 184.69 L463.00 185.28 L464.00 185.87 L465.00 186.46 L466.00 187.05 L466.16 187.15 M475.99 193.16 L476.00 193.16 L477.00 193.79 L478.00 194.42 L479.00 195.05 L480.00 195.68 L481.00 196.32 L482.00 196.96 L483.00 197.60 L483.42 197.87 M493.30 204.36 L494.00 204.83 L495.00 205.50 L496.00 206.18 L497.00 206.86 L498.00 207.54 L499.00 208.22 L500.00 208.91 L500.58 209.30 M509.10 215.25 L510.00 215.89 L511.00 216.61 L512.00 217.32 L513.00 218.04 L514.00 218.76 L515.00 219.48 L516.00 220.20 L516.25 220.38 M525.79 227.41 L526.00 227.56 L527.00 228.31 L528.00 229.06 L529.00 229.82 L530.00 230.57 L531.00 231.33 L532.00 232.09 L532.82 232.71 M541.18 239.16 L542.00 239.80 L543.00 240.58 L544.00 241.36 L545.00 242.15 L546.00 242.94 L547.00 243.73 L548.00 244.52 L548.10 244.60 M556.71 251.51 L557.00 251.74 L558.00 252.55 L559.00 253.37 L560.00 254.18 L561.00 255.00 L562.00 255.82 L563.00 256.64 L563.53 257.07 M571.99 264.10 L572.00 264.11 L573.00 264.95 L574.00 265.79 L575.00 266.63 L576.00 267.47 L577.00 268.32 L578.00 269.16 L578.71 269.77 M587.14 276.97 L588.00 277.71 L589.00 278.58 L590.00 279.44 L591.00 280.31 L592.00 281.17 L593.00 282.04 L593.79 282.73 M602.37 290.24 L603.00 290.79 L604.00 291.68 L605.00 292.56 L606.00 293.44 L607.00 294.33 L608.00 295.22 L608.96 296.07 M617.07 303.31 L618.00 304.14 L619.00 305.03 L620.00 305.93 L621.00 306.83 L622.00 307.73 L623.00 308.63 L623.62 309.19 M631.93 316.71 L632.00 316.78 L633.00 317.68 L634.00 318.59 L635.00 319.50 L636.00 320.41 L637.00 321.32 L638.00 322.24 L638.44 322.64 M646.73 330.22 L647.00 330.47 L648.00 331.38 L649.00 332.30 L650.00 333.22 L651.00 334.14 L652.00 335.06 L653.00 335.97 L653.21 336.17 M661.27 343.58 L662.00 344.26 L663.00 345.18 L664.00 346.10 L665.00 347.02 L666.00 347.94 L667.00 348.87 L667.74 349.55 M676.35 357.49 L677.00 358.09 L678.00 359.02 L679.00 359.94 L680.00 360.86 L681.00 361.78 L682.00 362.71 L682.81 363.46 M690.97 370.97 L691.00 371.00 L692.00 371.92 L693.00 372.84 L694.00 373.76 L695.00 374.68 L696.00 375.60 L697.00 376.52 L697.45 376.93 M705.69 384.48 L706.00 384.76 L707.00 385.68 L708.00 386.59 L709.00 387.51 L710.00 388.42 L711.00 389.33 L712.00 390.24 L712.18 390.41 M720.40 397.87 L721.00 398.42 L722.00 399.32 L723.00 400.22 L724.00 401.13 L725.00 402.03 L726.00 402.93 L726.93 403.77 M735.25 411.22 L736.00 411.89 L737.00 412.79 L738.00 413.68 L739.00 414.57 L740.00 415.45 L741.00 416.34 L741.82 417.07 M750.15 424.40 L751.00 425.15 L752.00 426.02 L753.00 426.89 L754.00 427.77 L755.00 428.64 L756.00 429.51 L756.78 430.19 M764.85 437.13 L765.00 437.27 L766.00 438.12 L767.00 438.97 L768.00 439.83 L769.00 440.68 L770.00 441.53 L771.00 442.37 L771.55 442.84 M780.48 450.33 L781.00 450.76 L782.00 451.59 L783.00 452.41 L784.00 453.24 L785.00 454.06 L786.00 454.88 L787.00 455.71 L787.27 455.93 M795.20 462.36 L796.00 463.00 L797.00 463.80 L798.00 464.60 L799.00 465.40 L800.00 466.20 L801.00 466.99 L802.00 467.78 L802.08 467.84 M811.87 475.48 L812.00 475.58 L813.00 476.35 L814.00 477.12 L815.00 477.89 L816.00 478.65 L817.00 479.41 L818.00 480.17 L818.86 480.82 M827.79 487.52 L828.00 487.67 L829.00 488.41 L830.00 489.15 L831.00 489.89 L832.00 490.62 L833.00 491.36 L834.00 492.09 L834.88 492.73 M843.71 499.10 L844.00 499.30 L845.00 500.02 L846.00 500.73 L847.00 501.44 L848.00 502.14 L849.00 502.85 L850.00 503.55 L850.90 504.18 M859.89 510.43 L860.00 510.50 L861.00 511.19 L862.00 511.87 L863.00 512.56 L864.00 513.24 L865.00 513.92 L866.00 514.60 L867.00 515.27 L867.16 515.38 M876.41 521.57 L877.00 521.96 L878.00 522.62 L879.00 523.28 L880.00 523.93 L881.00 524.59 L882.00 525.24 L883.00 525.90 L883.76 526.40 M893.21 532.48 L894.00 532.99 L895.00 533.63 L896.00 534.26 L897.00 534.90 L898.00 535.53 L899.00 536.16 L900.00 536.79 L900.64 537.19 M910.02 543.03 L911.00 543.64 L912.00 544.25 L913.00 544.86 L914.00 545.48 L915.00 546.09 L916.00 546.70 L917.00 547.31 L917.53 547.63 M927.21 553.45 L928.00 553.93 L929.00 554.52 L930.00 555.11 L931.00 555.71 L932.00 556.30 L933.00 556.89 L934.00 557.48 L934.78 557.94 M944.64 563.69 L945.00 563.90 L946.00 564.47 L947.00 565.05 L948.00 565.63 L949.00 566.20 L950.00 566.77 L951.00 567.35 L952.00 567.92 L952.27 568.07 M961.88 573.51 L962.00 573.58 L963.00 574.14 L964.00 574.70 L965.00 575.26 L966.00 575.82 L967.00 576.38 L968.00 576.94 L969.00 577.49 L969.56 577.81 M979.21 583.13 L980.00 583.56 L981.00 584.11 L982.00 584.65 L983.00 585.20 L984.00 585.74 L985.00 586.29 L986.00 586.83 L986.94 587.34 M996.57 592.53 L997.00 592.76 L998.00 593.30 L999.00 593.83 L1000.00 594.37 L1001.00 594.90 L1002.00 595.43 L1003.00 595.97 L1004.00 596.50 L1004.33 596.67 M1013.94 601.75 L1014.00 601.78 L1015.00 602.31 L1016.00 602.83 L1017.00 603.36 L1018.00 603.88 L1019.00 604.41 L1020.00 604.93 L1021.00 605.45 L1021.74 605.84 M1031.63 610.98 L1032.00 611.17 L1033.00 611.69 L1034.00 612.21 L1035.00 612.73 L1036.00 613.24 L1037.00 613.76 L1038.00 614.27 L1039.00 614.79 L1039.45 615.02 M1049.49 620.18 L1050.00 620.44 L1051.00 620.95 L1052.00 621.46 L1053.00 621.97 L1054.00 622.49 L1055.00 623.00 L1056.00 623.51 L1057.00 624.02 L1057.33 624.19 M1067.26 629.25 L1068.00 629.62 L1069.00 630.13 L1070.00 630.64 L1071.00 631.15 L1072.00 631.65 L1073.00 632.16 L1074.00 632.67 L1075.00 633.18 L1075.11 633.23 M1084.83 638.16 L1085.00 638.25 L1086.00 638.76 L1087.00 639.26 L1088.00 639.77 L1089.00 640.28 L1090.00 640.78 L1091.00 641.29 L1092.00 641.80 L1092.67 642.14 M1103.28 647.50 L1104.00 647.87 L1105.00 648.37 L1106.00 648.88 L1107.00 649.38 L1108.00 649.88 L1109.00 650.38 L1110.00 650.89 L1111.00 651.39 L1111.14 651.46 M1121.00 656.37 L1121.00 656.37 L1122.00 656.86 L1123.00 657.35 L1124.00 657.85 L1125.00 658.34 L1126.00 658.83 L1127.00 659.32 L1128.00 659.81 L1128.90 660.25 M1138.88 665.06 L1139.00 665.12 L1140.00 665.60 L1141.00 666.07 L1142.00 666.54 L1143.00 667.02 L1144.00 667.49 L1145.00 667.96 L1146.00 668.43 L1146.84 668.82 M1156.36 673.19 L1157.00 673.48 L1158.00 673.93 L1159.00 674.38 L1160.00 674.83 L1161.00 675.27 L1162.00 675.72 L1163.00 676.16 L1164.00 676.60 L1164.39 676.77 M1175.07 681.34 L1176.00 681.73 L1177.00 682.14 L1178.00 682.56 L1179.00 682.97 L1180.00 683.38 L1181.00 683.78 L1182.00 684.19 L1183.00 684.59 L1183.22 684.68 M1193.69 688.74 L1194.00 688.85 L1195.00 689.22 L1196.00 689.60 L1197.00 689.96 L1198.00 690.33 L1199.00 690.69 L1200.00 691.05 L1201.00 691.41 L1201.96 691.75 M1212.42 695.30 L1213.00 695.48 L1214.00 695.80 L1215.00 696.12 L1216.00 696.43 L1217.00 696.75 L1218.00 697.05 L1219.00 697.36 L1220.00 697.66 L1220.83 697.91 M1231.20 700.83 L1232.00 701.04 L1233.00 701.30 L1234.00 701.55 L1235.00 701.81 L1236.00 702.05 L1237.00 702.30 L1238.00 702.54 L1239.00 702.78 L1239.74 702.95 M1250.55 705.27 L1251.00 705.36 L1252.00 705.55 L1253.00 705.73 L1254.00 705.91 L1255.00 706.09 L1256.00 706.27 L1257.00 706.44 L1258.00 706.60 L1259.00 706.77 L1259.21 706.80" stroke="#7E2F8E"/>
</g></g>
<g opacity="0.999">
<text x="116.46" y="55.47" font-family="Liberation Sans" font-size="49.0" fill="#262626" letter-spacing="0.50">500</text>
<text x="116.46" y="189.72" font-family="Liberation Sans" font-size="49.0" fill="#262626" letter-spacing="0.50">400</text>
<text x="116.46" y="326.42" font-family="Liberation Sans" font-size="49.0" fill="#262626" letter-spacing="0.50">300</text>
<text x="116.46" y="461.22" font-family="Liberation Sans" font-size="49.0" fill="#262626" letter-spacing="0.50">200</text>
<text x="116.46" y="598.32" font-family="Liberation Sans" font-size="49.0" fill="#262626" letter-spacing="0.50">100</text>
<text x="171.96" y="735.27" font-family="Liberation Sans" font-size="49.0" fill="#262626" letter-spacing="0.50">0</text>
<text x="99.64" y="870.17" font-family="Liberation Sans" font-size="49.0" fill="#262626" letter-spacing="0.50">-100</text>
<text x="204.97" y="920.07" font-family="Liberation Sans" font-size="49.0" fill="#262626" letter-spacing="0.50">0</text>
<text x="406.57" y="920.07" font-family="Liberation Sans" font-size="49.0" fill="#262626" letter-spacing="0.50">50</text>
<text x="605.61" y="920.07" font-family="Liberation Sans" font-size="49.0" fill="#262626" letter-spacing="0.50">100</text>
<text x="817.91" y="920.07" font-family="Liberation Sans" font-size="49.0" fill="#262626" letter-spacing="0.50">150</text>
<text x="1030.65" y="920.07" font-family="Liberation Sans" font-size="49.0" fill="#262626" letter-spacing="0.50">200</text>
<text x="648.60" y="992.30" font-family="Liberation Sans" font-size="53.5" fill="#262626" letter-spacing="0.57">Time [s]</text>
<g transform="translate(79.80 651.00) rotate(-90)" fill="#262626">
<text x="-2.72" y="0.00" font-family="Liberation Sans" font-size="53.5" letter-spacing="0.57">Circulation [m</text>
<text x="334.24" y="-27.80" font-family="Liberation Sans" font-size="43.0" letter-spacing="0.57">2</text>
<text x="358.70" y="0.00" font-family="Liberation Sans" font-size="53.5" letter-spacing="0.57">/s]</text>
</g>
<rect x="841.6" y="65.2" width="400.8" height="327.8" fill="#fff" stroke="#444444" stroke-width="2.2"/>
<g fill="none" stroke-width="10.0" filter="url(#bl2)">
<path d="M851 107.5 H951" stroke="#0072BD"/>
<path d="M851 189.6 H951" stroke="#D95319" stroke-dasharray="39 40.8"/>
<path d="M851 269.1 H951" stroke="#EDB120" stroke-dasharray="38.6 10.6 19.9 10.6"/>
<path d="M851 351.9 H951" stroke="#7E2F8E" stroke-dasharray="8.8 11.0"/>
</g>
<text transform="translate(957.02 120.50) scale(1.1 1)" font-family="Liberation Serif" font-size="40.5" fill="#000">&#915;</text>
<text x="982.11" y="140.20" font-family="Liberation Sans" font-size="33.0" fill="#000">0</text>
<text x="1012.45" y="120.50" font-family="Liberation Sans" font-size="40.0" fill="#000">=</text>
<text x="1046.29" y="120.50" font-family="Liberation Sans" font-size="40.0" fill="#000" letter-spacing="0.20">250m</text>
<text transform="translate(1147.08 100.80) scale(1.1 1)" font-family="Liberation Sans" font-size="33.0" fill="#000">2</text>
<text x="1167.25" y="120.50" font-family="Liberation Sans" font-size="40.0" fill="#000" letter-spacing="0.20">/s</text>
<text transform="translate(956.82 200.50) scale(1.1 1)" font-family="Liberation Serif" font-size="40.5" fill="#000">&#915;</text>
<text x="982.11" y="220.20" font-family="Liberation Sans" font-size="33.0" fill="#000">0</text>
<text x="1012.45" y="200.50" font-family="Liberation Sans" font-size="40.0" fill="#000">=</text>
<text x="1047.38" y="200.50" font-family="Liberation Sans" font-size="40.0" fill="#000" letter-spacing="0.20">417m</text>
<text transform="translate(1148.18 180.80) scale(1.1 1)" font-family="Liberation Sans" font-size="33.0" fill="#000">2</text>
<text x="1168.34" y="200.50" font-family="Liberation Sans" font-size="40.0" fill="#000" letter-spacing="0.20">/s</text>
<text transform="translate(957.52 282.40) scale(1.1 1)" font-family="Liberation Serif" font-size="40.5" fill="#000">&#915;</text>
<text x="982.11" y="302.10" font-family="Liberation Sans" font-size="33.0" fill="#000">0z</text>
<text x="1027.55" y="282.40" font-family="Liberation Sans" font-size="40.0" fill="#000">=</text>
<text x="1062.08" y="282.40" font-family="Liberation Sans" font-size="40.0" fill="#000" letter-spacing="0.20">458m</text>
<text transform="translate(1162.88 262.70) scale(1.1 1)" font-family="Liberation Sans" font-size="33.0" fill="#000">2</text>
<text x="1183.04" y="282.40" font-family="Liberation Sans" font-size="40.0" fill="#000" letter-spacing="0.20">/s</text>
<text transform="translate(957.42 361.40) scale(1.1 1)" font-family="Liberation Serif" font-size="40.5" fill="#000">&#915;</text>
<text x="981.51" y="381.10" font-family="Liberation Sans" font-size="33.0" fill="#000">02z</text>
<text x="1045.55" y="361.40" font-family="Liberation Sans" font-size="40.0" fill="#000">=</text>
<text x="1078.88" y="361.40" font-family="Liberation Sans" font-size="40.0" fill="#000" letter-spacing="0.20">458m</text>
<text transform="translate(1179.68 341.70) scale(1.1 1)" font-family="Liberation Sans" font-size="33.0" fill="#000">2</text>
<text x="1199.84" y="361.40" font-family="Liberation Sans" font-size="40.0" fill="#000" letter-spacing="0.20">/s</text>
</g>
</svg>
</body></html>
